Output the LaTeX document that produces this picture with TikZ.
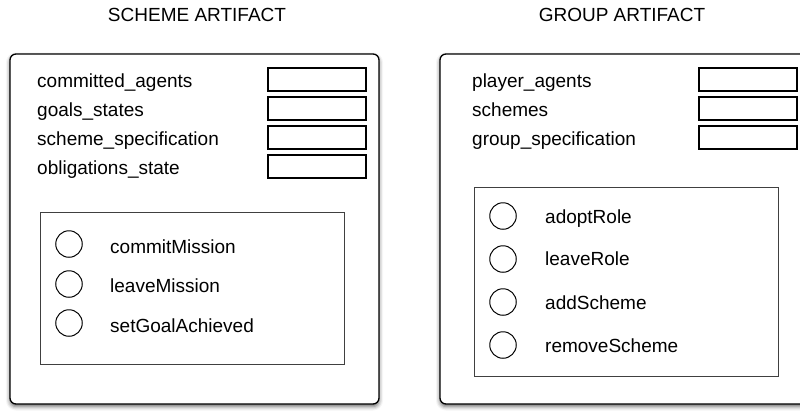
\documentclass[tikz,border=0pt]{standalone}
\usepackage{fontspec}
\setmainfont{Liberation Sans}
\usetikzlibrary{shadows.blur}

\tikzset{
  artifact/.style={draw=black, line width=1.3pt, fill=white, rounded corners=6pt,
    inner sep=0pt, blur shadow={shadow xshift=0pt, shadow yshift=-2.5pt,
    shadow blur radius=4pt, shadow opacity=60}},
  field/.style={draw=black, line width=1.2pt, inner sep=0pt,
    minimum width=98pt, minimum height=23pt},
  opsbox/.style={draw=black!75, line width=1pt, inner sep=0pt},
  opcircle/.style={circle, draw=black, line width=1pt, minimum size=26.5pt, inner sep=0pt},
  label/.style={anchor=base west, inner sep=0pt, font=\fontsize{19}{21}\selectfont},
  title/.style={anchor=base, inner sep=0pt, font=\fontsize{19}{21}\selectfont}
}

\begin{document}
\begin{tikzpicture}[x=1pt, y=-1pt]
  \path[use as bounding box, clip] (0,0) rectangle (800,410);

  % ---------------- scheme artifact ----------------
  \node[title] (stitle) at (197,21) {SCHEME ARTIFACT};
  \node[artifact, minimum width=369pt, minimum height=350pt] (scheme) at (194.5,229) {};

  \node[field] (sf1) at (317,79.5) {};
  \node[field] (sf2) at (317,108.5) {};
  \node[field] (sf3) at (317,137.5) {};
  \node[field] (sf4) at (317,166.5) {};
  \node[label] (sl1) at (37,87) {committed\_agents};
  \node[label] (sl2) at (37,116) {goals\_states};
  \node[label] (sl3) at (37,145) {scheme\_specification};
  \node[label] (sl4) at (37,174) {obligations\_state};

  \node[opsbox, minimum width=304pt, minimum height=152pt] (sops) at (192,288) {};
  \node[opcircle] (sc1) at (69,244) {};
  \node[opcircle] (sc2) at (69,284) {};
  \node[opcircle] (sc3) at (69,323) {};
  \node[label] (so1) at (110,253) {commitMission};
  \node[label] (so2) at (110,292) {leaveMission};
  \node[label] (so3) at (110,332) {setGoalAchieved};

  % ---------------- group artifact ----------------
  \node[title] (gtitle) at (622,21) {GROUP ARTIFACT};
  \node[artifact, minimum width=372pt, minimum height=350pt] (group) at (626,229) {};

  \node[field] (gf1) at (748,79.5) {};
  \node[field] (gf2) at (748,108.5) {};
  \node[field] (gf3) at (748,137.5) {};
  \node[label] (gl1) at (472,87) {player\_agents};
  \node[label] (gl2) at (472,116) {schemes};
  \node[label] (gl3) at (472,145) {group\_specification};

  \node[opsbox, minimum width=304pt, minimum height=189pt] (gops) at (626,281.5) {};
  \node[opcircle] (gc1) at (503,216) {};
  \node[opcircle] (gc2) at (503,259) {};
  \node[opcircle] (gc3) at (503,302) {};
  \node[opcircle] (gc4) at (503,345) {};
  \node[label] (go1) at (545,223) {adoptRole};
  \node[label] (go2) at (545,265) {leaveRole};
  \node[label] (go3) at (545,309) {addScheme};
  \node[label] (go4) at (545,352) {removeScheme};
\end{tikzpicture}
\end{document}
